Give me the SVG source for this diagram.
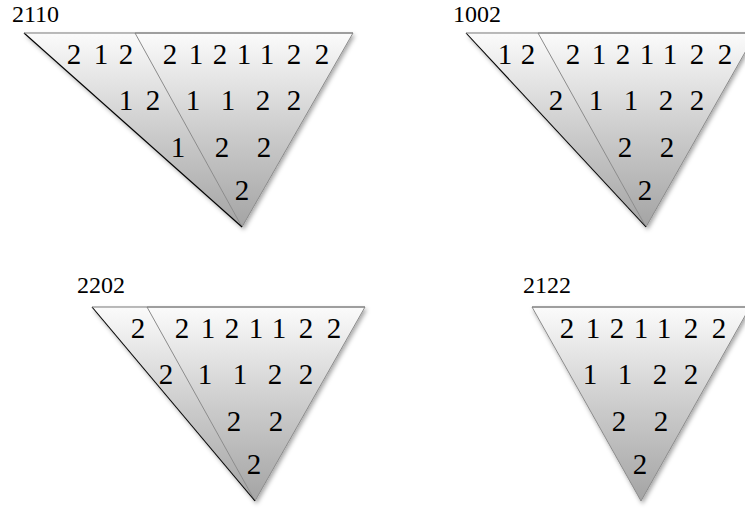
<svg xmlns="http://www.w3.org/2000/svg" width="745" height="514" viewBox="0 0 745 514">
  <defs>
    <linearGradient id="g" x1="0" y1="0" x2="0" y2="1">
      <stop offset="0" stop-color="#fbfbfb"/>
      <stop offset="0.5" stop-color="#cdcdcd"/>
      <stop offset="1" stop-color="#a4a4a4"/>
    </linearGradient>
    <filter id="sh" x="-10%" y="-10%" width="125%" height="125%">
      <feDropShadow dx="1.5" dy="2.5" stdDeviation="2" flood-color="#000" flood-opacity="0.35"/>
    </filter>
  </defs>
  <style>
    text { font-family: 'Liberation Serif', 'DejaVu Serif', serif; fill: #000; }
    .lbl { font-size: 24px; }
    .d text { font-size: 29px; text-anchor: middle; }
    .rt { fill: url(#g); stroke: #8c8c8c; stroke-width: 1; stroke-linejoin: round; }
    .lt { fill: url(#g); stroke: none; }
    .le { fill: none; stroke: #000; stroke-width: 1.1; }
    .te { fill: none; stroke: #7a7a7a; stroke-width: 1.2; }
  </style>

  <!-- Triangle 1: 2110 -->
  <g id="t2110">
    <text class="lbl" x="12" y="22" font-family="Liberation Serif, serif">2110</text>
    <g filter="url(#sh)">
      <polygon class="lt" points="24,33 135,33 242,227"/>
      <polygon class="rt" points="135,33 353,33 242,227"/>
    </g>
    <line class="le" x1="24" y1="33" x2="242" y2="227"/>
    <line class="te" x1="24" y1="33" x2="353" y2="33"/>
    <g class="d" font-family="Liberation Serif, serif">
      <text x="74" y="64">2</text><text x="101" y="64">1</text><text x="126" y="64">2</text>
      <text x="170" y="64">2</text><text x="196" y="64">1</text><text x="220" y="64">2</text><text x="244" y="64">1</text><text x="267" y="64">1</text><text x="294" y="64">2</text><text x="322" y="64">2</text>
      <text x="126" y="110">1</text><text x="153" y="110">2</text>
      <text x="193" y="110">1</text><text x="228" y="110">1</text><text x="263" y="110">2</text><text x="294" y="110">2</text>
      <text x="178" y="157">1</text>
      <text x="222" y="157">2</text><text x="264" y="157">2</text>
      <text x="242" y="200">2</text>
    </g>
  </g>

  <!-- Triangle 2: 1002 -->
  <g id="t1002">
    <text class="lbl" x="453" y="22" font-family="Liberation Serif, serif">1002</text>
    <g filter="url(#sh)">
      <polygon class="lt" points="466,33 538,33 646,227"/>
      <polygon class="rt" points="538,33 756,33 646,227"/>
    </g>
    <line class="le" x1="466" y1="33" x2="646" y2="227"/>
    <line class="te" x1="466" y1="33" x2="756" y2="33"/>
    <g class="d" font-family="Liberation Serif, serif">
      <text x="505" y="64">1</text><text x="528" y="64">2</text>
      <text x="573" y="64">2</text><text x="599" y="64">1</text><text x="623" y="64">2</text><text x="647" y="64">1</text><text x="670" y="64">1</text><text x="697" y="64">2</text><text x="725" y="64">2</text>
      <text x="556" y="110">2</text>
      <text x="596" y="110">1</text><text x="631" y="110">1</text><text x="666" y="110">2</text><text x="697" y="110">2</text>
      <text x="625" y="157">2</text><text x="667" y="157">2</text>
      <text x="645" y="200">2</text>
    </g>
  </g>

  <!-- Triangle 3: 2202 -->
  <g id="t2202">
    <text class="lbl" x="77" y="293" font-family="Liberation Serif, serif">2202</text>
    <g filter="url(#sh)">
      <polygon class="lt" points="92,307 147,307 255,501"/>
      <polygon class="rt" points="147,307 365,307 255,501"/>
    </g>
    <line class="le" x1="92" y1="307" x2="255" y2="501"/>
    <line class="te" x1="92" y1="307" x2="365" y2="307"/>
    <g class="d" font-family="Liberation Serif, serif">
      <text x="138" y="338">2</text>
      <text x="182" y="338">2</text><text x="208" y="338">1</text><text x="232" y="338">2</text><text x="256" y="338">1</text><text x="279" y="338">1</text><text x="306" y="338">2</text><text x="334" y="338">2</text>
      <text x="166" y="384">2</text>
      <text x="205" y="384">1</text><text x="240" y="384">1</text><text x="275" y="384">2</text><text x="306" y="384">2</text>
      <text x="234" y="431">2</text><text x="276" y="431">2</text>
      <text x="254" y="474">2</text>
    </g>
  </g>

  <!-- Triangle 4: 2122 -->
  <g id="t2122">
    <text class="lbl" x="523" y="293" font-family="Liberation Serif, serif">2122</text>
    <g filter="url(#sh)">
      <polygon class="rt" points="532,307 750,307 641,501"/>
    </g>
    <line class="te" x1="532" y1="307" x2="750" y2="307"/>
    <g class="d" font-family="Liberation Serif, serif">
      <text x="567" y="338">2</text><text x="593" y="338">1</text><text x="617" y="338">2</text><text x="641" y="338">1</text><text x="664" y="338">1</text><text x="691" y="338">2</text><text x="719" y="338">2</text>
      <text x="590" y="384">1</text><text x="625" y="384">1</text><text x="660" y="384">2</text><text x="691" y="384">2</text>
      <text x="619" y="431">2</text><text x="661" y="431">2</text>
      <text x="640" y="474">2</text>
    </g>
  </g>
</svg>
